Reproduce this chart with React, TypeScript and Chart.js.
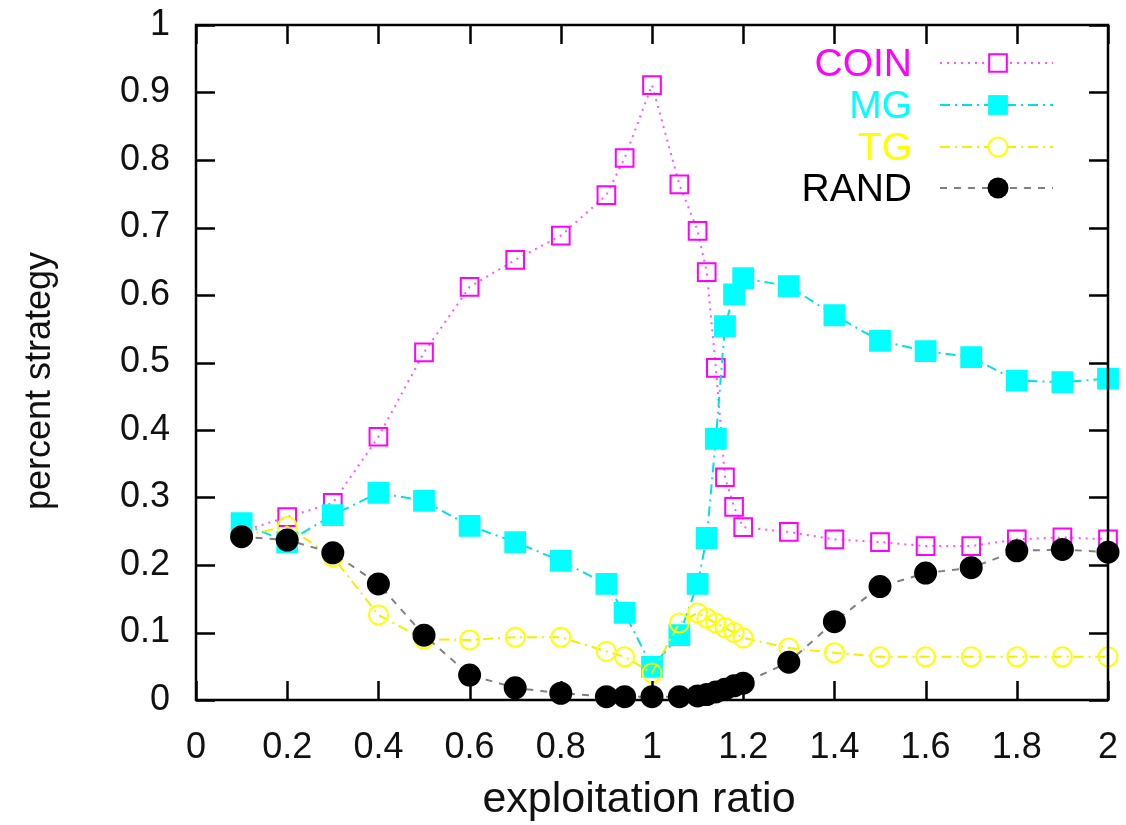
import React, { useEffect, useRef } from "react";
import { Chart, registerables } from "chart.js";

Chart.register(...registerables);

const xValues = [0.1, 0.2, 0.3, 0.4, 0.5, 0.6, 0.7, 0.8, 0.9, 0.94, 1.0, 1.06, 1.1, 1.12, 1.14, 1.16, 1.18, 1.2, 1.3, 1.4, 1.5, 1.6, 1.7, 1.8, 1.9, 2.0];
const coinValues = [0.25, 0.271, 0.292, 0.39, 0.515, 0.612, 0.652, 0.688, 0.748, 0.803, 0.911, 0.764, 0.695, 0.634, 0.492, 0.33, 0.286, 0.256, 0.249, 0.238, 0.234, 0.228, 0.228, 0.238, 0.241, 0.238];
const mgValues = [0.262, 0.234, 0.274, 0.307, 0.295, 0.258, 0.234, 0.206, 0.172, 0.129, 0.049, 0.096, 0.172, 0.24, 0.387, 0.554, 0.601, 0.625, 0.613, 0.57, 0.532, 0.517, 0.508, 0.473, 0.471, 0.476];
const tgValues = [0.243, 0.257, 0.212, 0.126, 0.09, 0.089, 0.093, 0.093, 0.072, 0.064, 0.04, 0.114, 0.129, 0.121, 0.114, 0.107, 0.1, 0.092, 0.077, 0.07, 0.064, 0.064, 0.064, 0.064, 0.064, 0.064];
const randValues = [0.242, 0.237, 0.218, 0.172, 0.096, 0.037, 0.018, 0.01, 0.005, 0.005, 0.005, 0.005, 0.006, 0.008, 0.012, 0.016, 0.021, 0.025, 0.056, 0.116, 0.168, 0.188, 0.196, 0.221, 0.223, 0.219];

const seriesNames = ["COIN", "MG", "TG", "RAND"];
const xTitle = "exploitation ratio";
const yTitle = "percent strategy";

const FONT = '"Liberation Sans", Arial, sans-serif';

type Style = {
  text: string;
  line: string;
  dash: number[];
  marker: "rect" | "circle";
  fill: string | null;
  stroke: string;
  radius: number;
};

const styles: Style[] = [
  { text: "#ff00ff", line: "#ff55ff", dash: [2, 5], marker: "rect", fill: null, stroke: "#ff00ff", radius: 12.5 },
  { text: "#00ffff", line: "#00e0e8", dash: [10, 5, 2, 5], marker: "rect", fill: "#00ffff", stroke: "#00ffff", radius: 14 },
  { text: "#ffff00", line: "#f0f000", dash: [10, 5, 2, 5], marker: "circle", fill: null, stroke: "#ffff00", radius: 9.5 },
  { text: "#000000", line: "#808080", dash: [7, 7], marker: "circle", fill: "#000000", stroke: "#000000", radius: 10.5 },
];

const frameAndLegend = {
  id: "frameAndLegend",
  afterDatasetsDraw(chart: any) {
    const { ctx, chartArea } = chart;
    const { left, right, top, bottom } = chartArea;
    const xs = chart.scales.x;
    const ys = chart.scales.y;
    ctx.save();
    ctx.strokeStyle = "#000";
    ctx.lineWidth = 2.5;
    ctx.setLineDash([]);
    ctx.strokeRect(left, top, right - left, bottom - top);
    const tl = 19;
    ctx.beginPath();
    xs.ticks.forEach((t: any) => {
      const px = Math.round(xs.getPixelForValue(t.value)) + 0.5;
      ctx.moveTo(px, bottom);
      ctx.lineTo(px, bottom - tl);
      ctx.moveTo(px, top);
      ctx.lineTo(px, top + tl);
    });
    ys.ticks.forEach((t: any) => {
      const py = Math.round(ys.getPixelForValue(t.value)) + 0.5;
      ctx.moveTo(left, py);
      ctx.lineTo(left + tl, py);
      ctx.moveTo(right, py);
      ctx.lineTo(right - tl, py);
    });
    ctx.stroke();

    // legend
    const rowY = [63, 105, 147, 188];
    ctx.font = `39px ${FONT}`;
    ctx.textAlign = "right";
    ctx.textBaseline = "middle";
    seriesNames.forEach((name, i) => {
      const s = styles[i];
      const y = rowY[i];
      ctx.fillStyle = s.text;
      ctx.fillText(name, 912, y + 2);
      ctx.strokeStyle = s.line;
      ctx.lineWidth = 2;
      ctx.setLineDash(s.dash);
      ctx.beginPath();
      ctx.moveTo(940, y);
      ctx.lineTo(1053, y);
      ctx.stroke();
      ctx.setLineDash([]);
      ctx.beginPath();
      const cx = 998;
      if (s.marker === "rect") {
        const h = s.radius * Math.SQRT1_2;
        ctx.rect(cx - h, y - h, 2 * h, 2 * h);
      } else {
        ctx.arc(cx, y, s.radius, 0, Math.PI * 2);
      }
      if (s.fill) {
        ctx.fillStyle = s.fill;
        ctx.fill();
      } else {
        ctx.fillStyle = "#fff";
        ctx.fill();
        ctx.strokeStyle = s.stroke;
        ctx.lineWidth = 2;
        ctx.stroke();
      }
    });

    // axis titles
    ctx.fillStyle = "#111";
    ctx.textAlign = "center";
    ctx.textBaseline = "middle";
    ctx.font = `43px ${FONT}`;
    ctx.fillText(xTitle, 639, 800);
    ctx.save();
    ctx.font = `36px ${FONT}`;
    ctx.translate(40, 381);
    ctx.rotate(-Math.PI / 2);
    ctx.fillText(yTitle, 0, 0);
    ctx.restore();
    ctx.restore();
  },
};

const zeroPad = (scale: any) => {
  scale.paddingTop = 0;
  scale.paddingBottom = 0;
  scale.paddingLeft = 0;
  scale.paddingRight = 0;
};

export default function App() {
  const ref = useRef<HTMLCanvasElement | null>(null);
  useEffect(() => {
    document.body.style.margin = "0";
    const canvas = ref.current;
    if (!canvas) return;
    const all = [coinValues, mgValues, tgValues, randValues];
    const datasets = all.map((vals, i) => {
      const s = styles[i];
      return {
        label: seriesNames[i],
        data: xValues.map((x, j) => ({ x, y: vals[j] })),
        borderColor: s.line,
        borderWidth: 2,
        borderDash: s.dash,
        backgroundColor: s.fill ?? "rgba(255,255,255,0)",
        pointStyle: s.marker,
        pointRadius: s.radius,
        pointBorderColor: s.stroke,
        pointBackgroundColor: s.fill ?? "rgba(255,255,255,0)",
        pointBorderWidth: 2,
        tension: 0,
        fill: false,
        clip: false,
        order: 4 - i,
      };
    });
    const chart = new Chart(canvas, {
      type: "line",
      data: { datasets },
      plugins: [frameAndLegend],
      options: {
        animation: false,
        responsive: false,
        maintainAspectRatio: false,
        devicePixelRatio: 1,
        layout: { padding: { left: 0, right: 18, top: 25, bottom: 0 } },
        plugins: { legend: { display: false }, tooltip: { enabled: false } },
        scales: {
          x: {
            type: "linear",
            min: 0,
            max: 2,
            grid: { display: false, drawTicks: false },
            border: { display: false },
            ticks: {
              stepSize: 0.2,
              padding: 26,
              color: "#111",
              font: { family: FONT, size: 36 },
              maxRotation: 0,
              autoSkip: false,
              callback: (v: any) => String(Number(Number(v).toFixed(1))),
            },
            afterFit: (scale: any) => {
              scale.height = 125;
              zeroPad(scale);
            },
          },
          y: {
            type: "linear",
            min: 0,
            max: 1,
            grid: { display: false, drawTicks: false },
            border: { display: false },
            ticks: {
              stepSize: 0.1,
              padding: 26,
              color: "#111",
              font: { family: FONT, size: 36 },
              autoSkip: false,
              callback: (v: any) => String(Number(Number(v).toFixed(1))),
            },
            afterFit: (scale: any) => {
              scale.width = 196;
              zeroPad(scale);
            },
          },
        },
      },
    });
    return () => chart.destroy();
  }, []);
  return (
    <div style={{ position: "absolute", left: 0, top: 0, width: 1126, height: 825, background: "#fff" }}>
      <canvas ref={ref} width={1126} height={825} />
    </div>
  );
}
